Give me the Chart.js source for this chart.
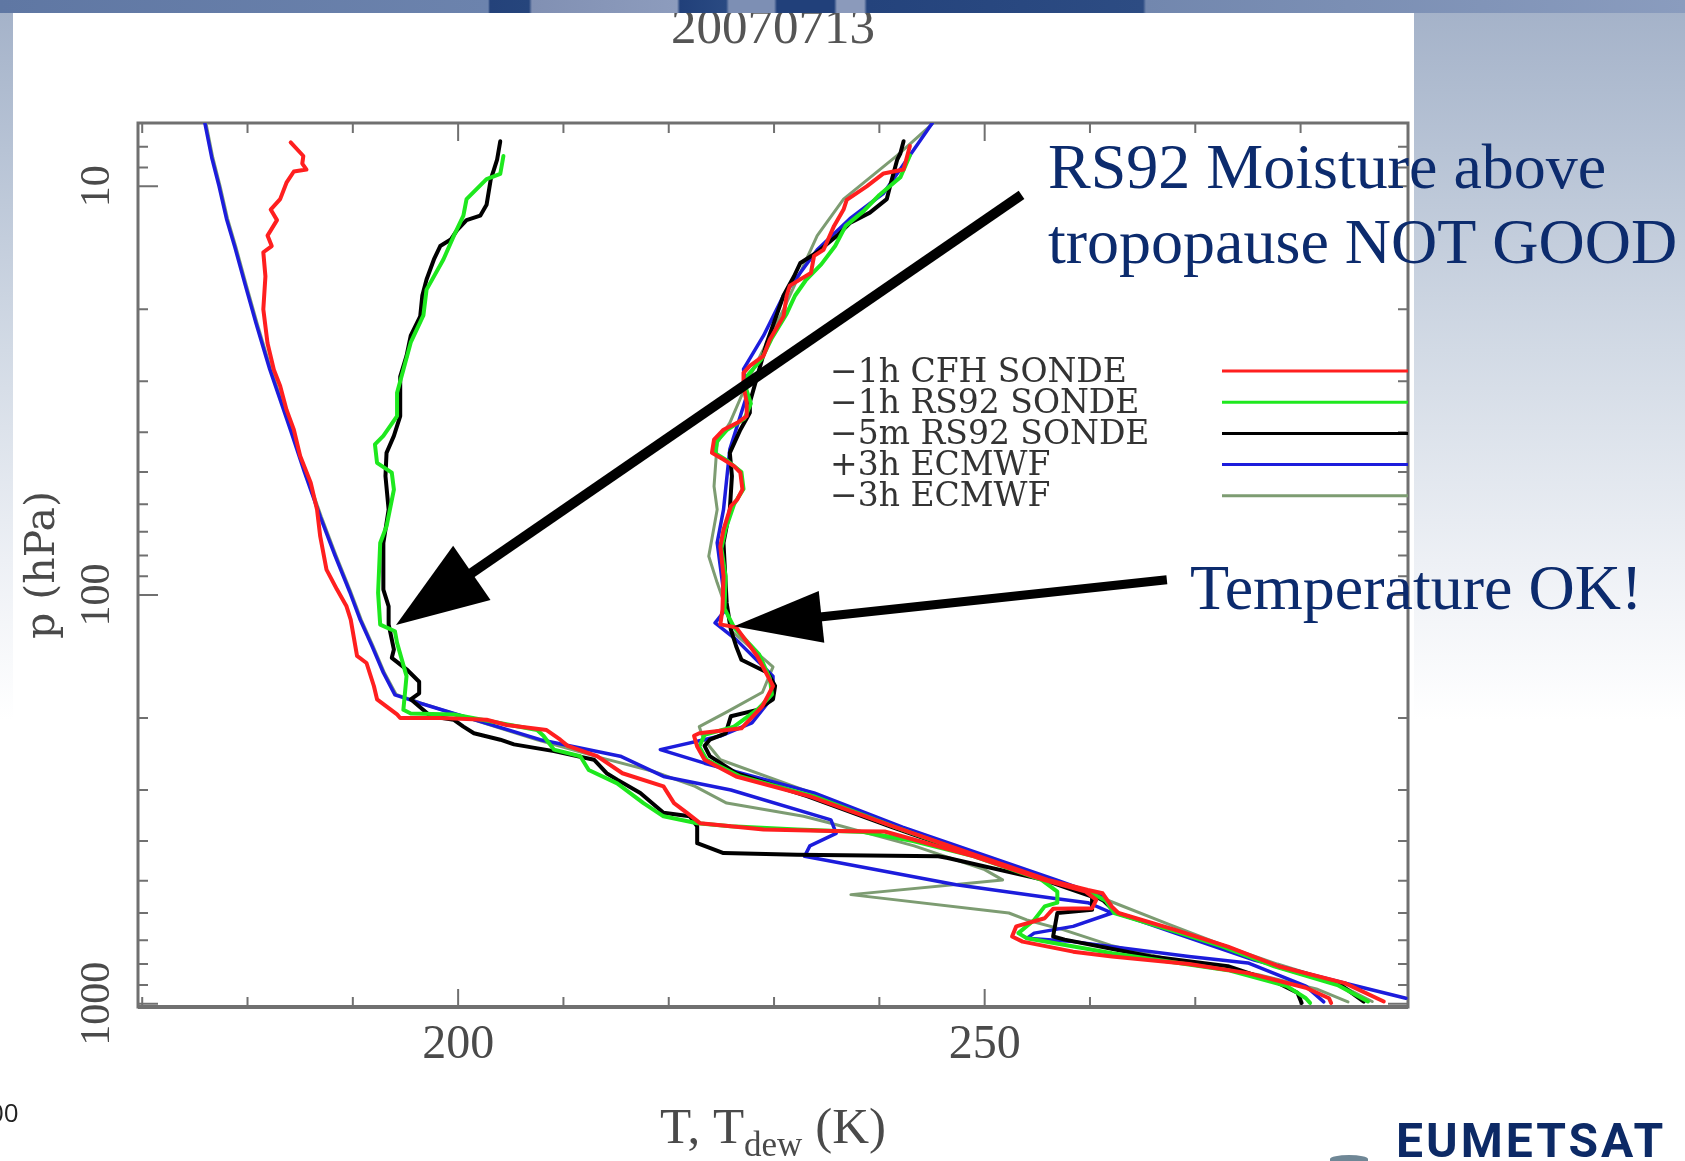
<!DOCTYPE html>
<html>
<head>
<meta charset="utf-8">
<title>20070713</title>
<script src="https://cdn.jsdelivr.net/npm/chart.js@4.4.0/dist/chart.umd.min.js"></script>
<style>
  html, body { margin: 0; padding: 0; }
  body {
    width: 1685px; height: 1161px; overflow: hidden; position: relative;
    background: linear-gradient(to bottom, #a3b1c8 0px, #b7c3d5 150px, #d2dae5 350px, #edf0f5 560px, #ffffff 720px);
  }
  #panel { position: absolute; left: 13px; top: 13px; width: 1401px; height: 1148px; background: #fff; }
  #chart { position: absolute; left: 0; top: 0; }
  #banner {
    position: absolute; left: 0; top: 0; width: 1685px; height: 13px;
    background: linear-gradient(to right, #5f77a3 0px, #6c83ad 488px, #24427a 490px, #26457c 529px,
      #8190b3 532px, #8d9cbd 677px, #21407a 680px, #2a4a82 726px, #7d8fb4 729px, #7d8fb4 774px,
      #21407a 777px, #21407a 834px, #8b9abb 837px, #8b9abb 864px, #24437c 867px, #2d4c83 1143px,
      #7287ae 1146px, #8a9cbe 1685px);
  }
  #pageno { position: absolute; left: -11px; top: 1094px; font: 26px "Open Sans", sans-serif; color: #222; }
  #logo {
    position: absolute; left: 1396px; top: 1117px; font: 700 48px Roboto, sans-serif;
    line-height: 48px; letter-spacing: 3px; color: #0d2a66;
  }
  #swoosh { position: absolute; left: 1330px; top: 1155px; width: 38px; height: 8px; background: #6f8796; border-radius: 50% 50% 0 0; }
</style>
</head>
<body>
<div id="panel"></div>
<canvas id="chart" width="1685" height="1161"></canvas>
<div id="banner"></div>
<div id="pageno">00</div>
<div id="swoosh"></div>
<div id="logo">EUMETSAT</div>
<script>
// [pressure hPa, temperature K], top of the profile first
const cfhTemp = [[7.97,242.9],[9.1,242.3],[9.3,240.4],[10.0,238.8],[10.8,236.9],[11.4,236.6],[12.5,235.7],[14.3,234.7],[14.8,233.8],[16.3,233.5],[17.5,231.5],[18.5,231.2],[20.8,230.9],[23.7,229.6],[26.0,229.0],[27.5,227.7],[28.6,227.1],[30.8,227.1],[33.8,227.4],[36.5,227.4],[37.9,226.5],[39.4,225.2],[41.7,224.3],[44.9,224.1],[46.6,225.2],[48.4,226.2],[50.2,226.8],[55.2,227.0],[58.4,226.5],[60.6,225.9],[69.2,225.2],[76,224.9],[90,225.2],[108.6,225.1],[118,224.9],[120,226.4],[141,228.4],[158,229.4],[167,229.9],[187,228.9],[212,226.9],[218,222.9],[221,222.4],[235,222.7],[253,223.4],[278,226.4],[311,233.4],[370,241.5],[436,249.5],[498,256.0],[527,259.8],[537,261.2],[580,262.1],[600,262.7],[660,268.1],[725,273.1],[810,277.9],[891,284.2],[988,287.9]]
const cfhDew = [[7.81,184.1],[8.43,185.3],[8.8,185.2],[9.1,185.6],[9.2,184.4],[9.8,183.7],[10.75,183.1],[11.4,182.2],[12.1,182.8],[13.2,181.9],[14.0,182.3],[14.5,181.5],[16.6,181.7],[20,181.5],[24.2,181.9],[28.1,182.5],[30.8,183.1],[35.2,183.7],[39.4,184.4],[45.7,185.0],[53.1,186.0],[61.8,186.6],[71.8,186.9],[86.7,187.5],[97,188.5],[106.6,189.4],[114.9,189.8],[141,190.4],[146.7,191.3],[167,192.0],[180,192.3],[196,194.2],[200,194.5],[200,198.3],[202,202.7],[208,204.6],[214,208.4],[226,209.7],[234,210.4],[248,213.2],[273,215.6],[294,219.5],[323,220.5],[341,221.7],[362,223.0],[375,229.0],[378,235.4],[379,240.5],[395,243.0],[436,249.0],[498,255.6],[532,259.6],[557,260.6],[584,260.2],[586,256.5],[618,255.7],[647,253.0],[685,252.6],[705,253.6],[746,258.4],[767,262.1],[800,269.4],[842,275.0],[914,280.5],[970,282.7],[996,282.9]]
const rs92Temp = [[8.4,242.9],[9.5,242.0],[10.5,240.0],[11.5,238.5],[12.5,236.8],[14.0,235.8],[15.5,234.5],[17,233.0],[18.5,232.0],[20.5,231.2],[23.5,229.8],[26.5,228.8],[29,227.5],[31,227.3],[34,227.8],[37,227.2],[39.5,225.5],[42,224.6],[45,224.4],[47,225.6],[50,226.9],[55,227.1],[60,226.2],[69,225.4],[77,225.0],[90,225.4],[108,225.3],[120,226.2],[140,228.6],[160,229.6],[175,229.8],[190,228.5],[210,226.2],[220,223.4],[235,222.9],[253,223.6],[278,226.8],[311,233.8],[370,241.5],[436,249.3],[500,256.0],[530,259.8],[560,261.5],[600,262.3],[660,267.6],[725,272.6],[810,277.5],[900,283.5],[988,286.4]]
const rs92Dew = [[8.43,204.3],[9.33,204.0],[9.6,202.7],[10.75,200.8],[11.8,200.5],[13.2,199.6],[15.1,198.6],[17.9,197.0],[20.7,196.7],[24.1,195.5],[28.1,194.8],[32,194.2],[36.5,194.2],[40.8,192.9],[42.8,192.1],[47.5,192.3],[50.2,193.7],[55.2,193.9],[67.9,193.2],[74.6,192.6],[98.8,192.4],[118.2,192.6],[122.7,194.0],[131,194.2],[158,195.1],[191,194.8],[195,195.5],[196,199.6],[214,207.5],[221,208.1],[239,209.1],[248,211.6],[268,212.4],[289,215.1],[323,217.6],[348,219.5],[362,222.7],[368,225.9],[375,232.2],[380,238.5],[400,243.2],[436,249.0],[498,255.4],[532,256.9],[566,256.9],[578,255.7],[624,254.7],[672,253.2],[692,254.0],[753,262.1],[828,273.1],[906,278.7],[970,280.5],[996,280.9]]
const rs92LateTemp = [[7.76,242.3],[8.3,242.0],[8.6,241.7],[9.8,241.1],[10.75,240.7],[11.6,239.1],[12.3,237.2],[13.2,236.0],[14.5,234.1],[15.4,232.5],[16.6,231.9],[18.5,230.9],[24.2,229.3],[33.8,227.7],[35.8,227.7],[39.4,226.8],[44.9,225.8],[51.2,226.0],[61.8,225.8],[74.6,225.2],[104.6,225.5],[121.6,225.9],[133.5,226.4],[144,226.9],[155,229.4],[167,230.1],[180,229.9],[191,228.4],[198,225.9],[218,225.4],[226,223.9],[234,223.4],[248,223.9],[273,226.4],[311,233.2],[370,241.2],[436,249.2],[498,255.8],[530,259.6],[560,261.3],[600,262.5],[660,267.8],[725,272.9],[810,277.7],[900,283.8],[988,286.0]]
const rs92LateDew = [[7.76,204.0],[8.6,203.7],[9.1,203.4],[9.6,203.1],[11.1,202.7],[11.8,202.1],[12.1,200.8],[12.8,199.9],[13.5,199.3],[14,198.3],[15.1,197.7],[16.9,197.0],[18.5,196.6],[20.8,196.4],[23.2,195.5],[26,195.1],[29.2,194.5],[36.5,194.5],[40.8,193.9],[44.9,193.2],[51.2,193.1],[61.8,193.4],[74.6,192.9],[97,192.9],[106.6,193.4],[118,193.4],[136,193.9],[142.5,193.7],[152,195.1],[163,196.3],[174,196.3],[180,195.5],[198,197.4],[202,199.6],[210,200.5],[218,201.5],[226,204.0],[232,205.3],[241,209.1],[253,212.9],[273,214.1],[283,215.1],[305,217.3],[341,219.5],[348,222.0],[368,222.7],[405,222.7],[428,225.2],[432,232.2],[436,245.6],[440,246.5],[498,255.6],[547,260.2],[589,260.2],[600,256.9],[685,256.5],[697,257.6],[767,265.8],[810,273.1],[891,277.9],[940,279.7],[996,280.1]]
const ecmwfPlusTemp = [[6.9,245.2],[10.4,240.4],[12,237.2],[14.3,234.1],[18.5,230.9],[23.2,229.0],[28,227.1],[32.6,227.4],[44,225.8],[61.8,225.2],[74.5,224.6],[93.4,225.1],[108.6,225.4],[117,224.4],[128.6,226.4],[158,229.9],[177,229.9],[205.5,227.9],[221,225.0],[239,219.2],[258,223.4],[305,233.8],[370,242.2],[436,250.3],[500,257.0],[547,261.2],[600,262.6],[672,268.1],[782,275.6],[875,283.0],[970,290.0]]
const ecmwfPlusDew = [[6.9,175.9],[8.5,176.6],[10,177.3],[12,178.0],[14.1,178.8],[17.5,179.8],[21.6,180.8],[28,182.1],[39.6,184.1],[50,185.4],[64.3,186.9],[80,188.3],[98.2,189.7],[115,190.7],[133,191.8],[155,192.9],[175.5,194.0],[184,196.4],[226,207.8],[248,215.4],[278,219.5],[300,225.9],[355,235.4],[383,235.9],[411,233.4],[436,232.9],[512,247.3],[552,256.5],[566,259.8],[600,262.1],[647,258.4],[672,254.7],[692,254.0],[705,258.4],[767,269.4],[795,275.0],[906,280.5],[990,282.2]]
const ecmwfMinusTemp = [[6.9,245.4],[8.4,241.7],[10.75,236.6],[13.2,234.1],[20,230.9],[29.2,227.7],[37.9,225.8],[42.4,224.6],[54.2,224.3],[61.8,224.6],[80.4,223.8],[93.4,224.6],[108.6,225.5],[122,225.9],[150,229.9],[173,228.9],[194,225.4],[210,222.9],[225,223.3],[253,224.9],[305,233.6],[370,241.8],[436,249.8],[498,256.3],[560,261.8],[640,267.5],[725,273.0],[800,277.8],[880,283.0],[988,286.8]]
const ecmwfMinusDew = [[6.9,176.0],[8.5,176.7],[10,177.4],[12,178.1],[14.1,178.9],[17.5,179.9],[21.6,180.9],[28,182.2],[39.6,184.2],[50,185.5],[64.3,187.0],[80,188.4],[98.2,189.8],[115,190.8],[133,191.9],[155,193.0],[175,194.1],[184,196.5],[226,207.5],[250,213.5],[270,218.5],[294,222.5],[323,225.5],[348,232.8],[362,235.4],[411,243.3],[470,250.0],[498,251.7],[541,237.3],[600,252.3],[624,254.0],[660,257.5],[720,262.0],[790,268.5],[850,276.0],[920,281.5],[990,284.5]]

const seriesLabels = ['\u22121h CFH SONDE', '\u22121h RS92 SONDE', '\u22125m RS92 SONDE', '+3h ECMWF', '\u22123h ECMWF']
const seriesColors = ['#ff1f1f', '#1ee81e', '#000000', '#1c1cdc', '#7d9c72']
const seriesWidths = [4, 4, 4, 3.5, 3]
const profiles = [
  [cfhTemp, cfhDew],
  [rs92Temp, rs92Dew],
  [rs92LateTemp, rs92LateDew],
  [ecmwfPlusTemp, ecmwfPlusDew],
  [ecmwfMinusTemp, ecmwfMinusDew]
]

const titleText = '20070713'
const xTickLabels = [200, 250]
const yTickLabels = [10, 100, 1000]

// arrow ends in (T, p)
const arrowMoisture = {from: [253.5, 10.5], to: [194.1, 118.4], width: 10, head: 92, half: 33}
const arrowTemperature = {from: [267.3, 91.8], to: [226.2, 119.2], width: 9, head: 88, half: 26}

const datasets = []
profiles.forEach((pair, i) => {
  pair.forEach(pts => {
    datasets.push({
      label: seriesLabels[i],
      data: pts.map(([p, t]) => ({x: t, y: p})),
      borderColor: seriesColors[i],
      borderWidth: seriesWidths[i],
      pointRadius: 0,
      tension: 0,
      fill: false,
      borderJoinStyle: 'round',
      borderCapStyle: 'round'
    })
  })
})

function drawArrow(ctx, x, y, a) {
  const x0 = x.getPixelForValue(a.from[0]), y0 = y.getPixelForValue(a.from[1])
  const x1 = x.getPixelForValue(a.to[0]), y1 = y.getPixelForValue(a.to[1])
  const len = Math.hypot(x1 - x0, y1 - y0)
  const ux = (x1 - x0) / len, uy = (y1 - y0) / len
  const bx = x1 - ux * a.head, by = y1 - uy * a.head
  ctx.strokeStyle = '#000'
  ctx.fillStyle = '#000'
  ctx.lineWidth = a.width
  ctx.lineCap = 'butt'
  ctx.beginPath()
  ctx.moveTo(x0, y0)
  ctx.lineTo(bx + ux * 4, by + uy * 4)
  ctx.stroke()
  ctx.beginPath()
  ctx.moveTo(x1, y1)
  ctx.lineTo(bx - uy * a.half, by + ux * a.half)
  ctx.lineTo(bx + uy * a.half, by - ux * a.half)
  ctx.closePath()
  ctx.fill()
}

const decor = {
  id: 'decor',
  beforeDatasetsDraw(chart) {
    const {ctx, chartArea: a, scales: {x, y}} = chart
    ctx.save()
    ctx.strokeStyle = '#707070'
    ctx.lineWidth = 2
    ctx.beginPath()
    for (let t = 170; t <= 290; t += 10) {
      const px = x.getPixelForValue(t)
      if (px < a.left + 3 || px > a.right - 3) continue
      const len = t % 50 === 0 ? 18 : 10
      ctx.moveTo(px, a.bottom); ctx.lineTo(px, a.bottom - len)
      ctx.moveTo(px, a.top); ctx.lineTo(px, a.top + len)
    }
    for (let d = 1; d <= 1000; d *= 10) {
      for (let m = 1; m < 10; m++) {
        const v = m * d
        if (v < y.min || v > y.max) continue
        const py = y.getPixelForValue(v)
        if (py < a.top + 3 || py > a.bottom - 3) continue
        const len = m === 1 ? 20 : 10
        ctx.moveTo(a.left, py); ctx.lineTo(a.left + len, py)
        ctx.moveTo(a.right, py); ctx.lineTo(a.right - len, py)
      }
    }
    ctx.stroke()
    ctx.lineWidth = 3
    ctx.strokeRect(a.left, a.top, a.right - a.left, a.bottom - a.top)
    ctx.lineWidth = 4
    ctx.beginPath()
    ctx.moveTo(a.left, a.bottom); ctx.lineTo(a.right, a.bottom)
    ctx.stroke()
    ctx.restore()
  },
  afterDraw(chart) {
    const {ctx, chartArea: a, scales: {x, y}} = chart
    ctx.save()
    ctx.textAlign = 'center'
    ctx.textBaseline = 'alphabetic'

    // title
    ctx.font = '51px "Liberation Serif"'
    ctx.fillStyle = '#555'
    ctx.fillText(titleText, (a.left + a.right) / 2, 43)

    // tick labels
    ctx.fillStyle = '#4a4a4a'
    ctx.font = '48px "Liberation Serif"'
    ctx.textBaseline = 'middle'
    xTickLabels.forEach(v => ctx.fillText(String(v), x.getPixelForValue(v), a.bottom + 38))
    ctx.font = '42px "Liberation Serif"'
    yTickLabels.forEach(v => {
      ctx.save()
      ctx.translate(a.left - 40, y.getPixelForValue(v))
      ctx.rotate(-Math.PI / 2)
      ctx.fillText(String(v), 0, 0)
      ctx.restore()
    })

    // axis titles
    ctx.save()
    ctx.font = '41px "DejaVu Serif"'
    ctx.translate(43, 565)
    ctx.rotate(-Math.PI / 2)
    ctx.fillText('p (hPa)', 0, 0)
    ctx.restore()

    ctx.textAlign = 'left'
    ctx.textBaseline = 'alphabetic'
    const big = '51px "Liberation Serif"', small = '35px "Liberation Serif"'
    ctx.font = big
    const w1 = ctx.measureText('T, T').width, w3 = ctx.measureText(' (K)').width
    ctx.font = small
    const w2 = ctx.measureText('dew').width
    const tx = (a.left + a.right) / 2 - (w1 + w2 + w3) / 2
    ctx.font = big
    ctx.fillText('T, T', tx, 1143)
    ctx.font = small
    ctx.fillText('dew', tx + w1, 1156)
    ctx.font = big
    ctx.fillText(' (K)', tx + w1 + w2, 1143)

    // legend
    const seen = []
    chart.data.datasets.forEach(ds => {
      if (seen.some(s => s.label === ds.label)) return
      seen.push(ds)
    })
    ctx.font = '33px "DejaVu Serif"'
    ctx.fillStyle = '#333'
    ctx.textBaseline = 'middle'
    seen.forEach((ds, i) => {
      const ly = 373 + i * 31.2
      ctx.fillText(ds.label, 830, ly)
      ctx.strokeStyle = ds.borderColor
      ctx.lineWidth = 3
      ctx.beginPath()
      ctx.moveTo(a.right - 186, ly - 2)
      ctx.lineTo(a.right, ly - 2)
      ctx.stroke()
    })

    // annotations
    drawArrow(ctx, x, y, arrowMoisture)
    drawArrow(ctx, x, y, arrowTemperature)
    ctx.font = '64px "Liberation Serif"'
    ctx.fillStyle = '#0c2b6d'
    ctx.textBaseline = 'alphabetic'
    ctx.fillText('RS92 Moisture above', 1048, 188)
    ctx.fillText('tropopause NOT GOOD', 1048, 263)
    ctx.fillText('Temperature OK!', 1190, 609)
    ctx.restore()
  }
}

new Chart(document.getElementById('chart'), {
  type: 'line',
  data: {datasets},
  options: {
    responsive: false,
    animation: false,
    devicePixelRatio: 1,
    layout: {padding: {left: 0, top: 123, right: 277, bottom: 0}},
    plugins: {legend: {display: false}, tooltip: {enabled: false}, title: {display: false}},
    scales: {
      x: {
        type: 'linear', min: 169.6, max: 290.2,
        ticks: {display: false}, grid: {display: false}, border: {display: false},
        afterFit: s => { s.height = 154 }
      },
      y: {
        type: 'logarithmic', reverse: true, min: 7, max: 1019,
        ticks: {display: false}, grid: {display: false}, border: {display: false},
        afterFit: s => { s.width = 138 }
      }
    }
  },
  plugins: [decor]
})
</script>
</body>
</html>
